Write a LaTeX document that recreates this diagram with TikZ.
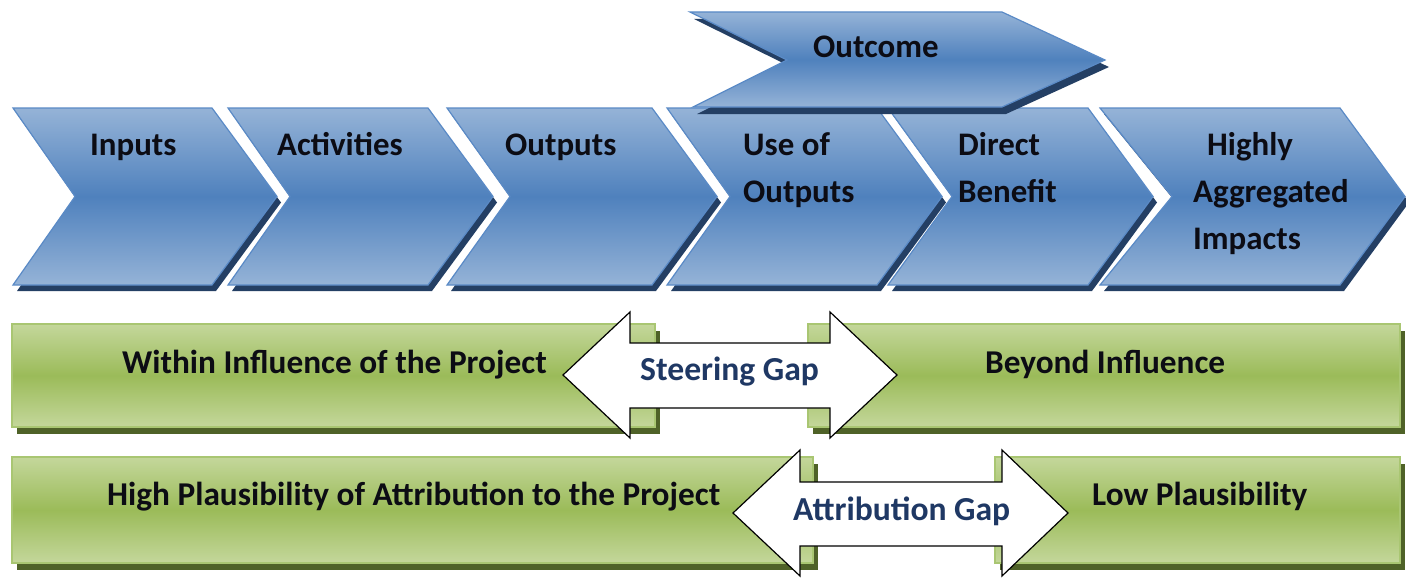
\documentclass[tikz,border=0pt]{standalone}
\usepackage{fontspec}
\setmainfont{Carlito}
\definecolor{cbl}{HTML}{95B3D7}
\definecolor{cbm}{HTML}{4F81BD}
\definecolor{cbd}{HTML}{5A8AC6}
\definecolor{cbs}{HTML}{243F64}
\definecolor{cgl}{HTML}{C4D79B}
\definecolor{cgm}{HTML}{9BBB59}
\definecolor{cgd}{HTML}{A9C672}
\definecolor{cgs}{HTML}{4F6228}
\definecolor{ctext}{HTML}{0C0C14}
\definecolor{cgap}{HTML}{1F3864}
\tikzset{
  blueshape/.style={top color=cbl, bottom color=cbl, middle color=cbm, draw=cbd, line width=1.2pt, line join=miter},
  blueshadow/.style={fill=cbs},
  greenbar/.style={top color=cgl, bottom color=cgl, middle color=cgm, draw=cgd, line width=1.5pt},
  greenshadow/.style={fill=cgs},
  gaparrow/.style={fill=white, draw=black, line width=1.2pt, line join=miter},
  lbl/.style={inner sep=0pt, anchor=base west, text=ctext, font=\bfseries\fontsize{32.9}{47}\selectfont},
  barlbl/.style={lbl, font=\bfseries\fontsize{33.3}{47}\selectfont},
  gaplbl/.style={lbl, text=cgap, font=\bfseries\fontsize{33.6}{47}\selectfont},
}
% #1 left, #2 top-right x, #3 notch depth, #4 tip depth
\newcommand{\mychev}[4]{%
  \fill[blueshadow] ({#1+4},114) -- ({#2+4},114) -- ({#2+#4+4},202.5) -- ({#2+4},291) -- ({#1+4},291) -- ({#1+#3+4},202.5) -- cycle;
  \path[blueshape] (#1,108) -- (#2,108) -- ({#2+#4},196.5) -- (#2,285) -- (#1,285) -- ({#1+#3},196.5) -- cycle;
}
\newcommand{\mybar}[4]{%
  \fill[greenshadow] ({#1+5},{#2+7}) rectangle ({#3+5},{#4+7});
  \path[greenbar] (#1,#2) rectangle (#3,#4);
}
\newcommand{\mlines}[1]{\begin{tabular}[t]{@{}l@{}}#1\end{tabular}}
\begin{document}
\begin{tikzpicture}[x=1pt,y=-1pt]
\useasboundingbox (0,0) rectangle (1406,578);
\fill[white] (0,0) rectangle (1406,578);

% row of chevrons
\mychev{13}{212}{62}{65}
\mychev{228}{428}{62}{65}
\mychev{447}{652}{63}{65}
\mychev{667}{877}{63}{65}
\mychev{888}{1088}{64}{65}
\mychev{1100}{1340}{72}{65}

% outcome chevron
\fill[blueshadow] (694,19) -- (1006,19) -- (1109,67) -- (1006,114) -- (697,114) -- (791,67) -- cycle;
\path[blueshape] (690,12) -- (1002,12) -- (1105,60) -- (1002,107) -- (693,107) -- (787,60) -- cycle;

% green bars
\mybar{12}{324}{655}{427}
\mybar{808}{324}{1400}{427}
\mybar{12}{457}{813}{563}
\mybar{995}{457}{1400}{563}

% gap arrows
\path[gaparrow] (563,375) -- (630,312) -- (630,343) -- (830,343) -- (830,312) -- (897,375)
  -- (830,438) -- (830,408) -- (630,408) -- (630,438) -- cycle;
\path[gaparrow] (733,513) -- (800,450) -- (800,482) -- (1002,482) -- (1002,450) -- (1068,513)
  -- (1002,576) -- (1002,546) -- (800,546) -- (800,576) -- cycle;

% labels
\node[lbl] (inputs) at (90,155) {Inputs};
\node[lbl] (activities) at (277,155) {Activities};
\node[lbl] (outputs) at (505,155) {Outputs};
\node[lbl] (useof) at (743,155) {\mlines{Use of\\Outputs}};
\node[lbl] (direct) at (958,155) {\mlines{Direct\\Benefit}};
\node[lbl] (highly) at (1193,155) {\mlines{\hspace*{14pt}Highly\\Aggregated\\Impacts}};
\node[lbl] (outcome) at (813,58) {Outcome};

\node[barlbl] (within) at (122,373) {Within Influence of the Project};
\node[barlbl] (beyond) at (985,373) {Beyond Influence};
\node[barlbl] (high) at (107,505) {High Plausibility of Attribution to the Project};
\node[barlbl] (low) at (1092,505) {Low Plausibility};

\node[gaplbl] (steering) at (640,380) {Steering Gap};
\node[gaplbl] (attribution) at (793,520) {Attribution Gap};
\end{tikzpicture}
\end{document}
